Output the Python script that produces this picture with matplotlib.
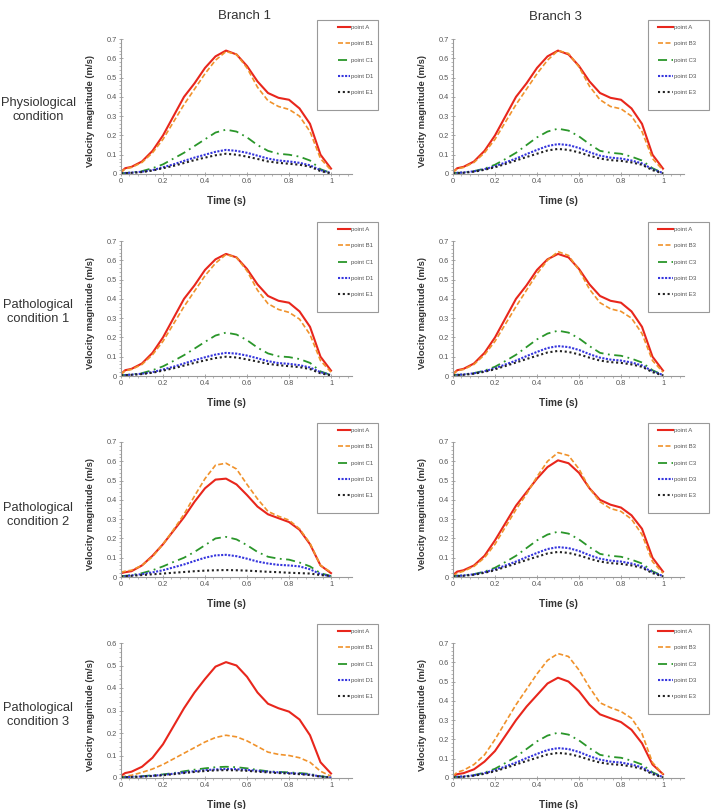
import matplotlib
matplotlib.use("Agg")
import matplotlib.pyplot as plt
import matplotlib.ticker as mticker
from matplotlib.lines import Line2D
from matplotlib.patches import Rectangle

plt.rcParams['font.family'] = ['Liberation Sans', 'DejaVu Sans']

# time samples (s)
TIME = [0, 0.02, 0.05, 0.10, 0.15, 0.20, 0.25, 0.30, 0.35, 0.40, 0.45,
        0.50, 0.55, 0.60, 0.65, 0.70, 0.75, 0.80, 0.85, 0.90, 0.95, 1.00]

# ---- physiological condition
phys_A = [0.01, 0.03, 0.037, 0.065, 0.12, 0.20, 0.30, 0.40, 0.47, 0.55, 0.61,
          0.64, 0.62, 0.56, 0.48, 0.42, 0.395, 0.385, 0.34, 0.26, 0.10, 0.028]
phys_B1 = [0.01, 0.027, 0.034, 0.06, 0.11, 0.18, 0.27, 0.36, 0.44, 0.52, 0.59,
           0.635, 0.62, 0.55, 0.45, 0.38, 0.35, 0.335, 0.30, 0.22, 0.08, 0.02]
phys_C1 = [0.005, 0.005, 0.008, 0.015, 0.03, 0.05, 0.08, 0.11, 0.145, 0.18, 0.215,
           0.23, 0.22, 0.19, 0.15, 0.12, 0.105, 0.10, 0.09, 0.07, 0.025, 0.005]
phys_D1 = [0.005, 0.005, 0.007, 0.012, 0.02, 0.035, 0.05, 0.068, 0.085, 0.10, 0.115,
           0.125, 0.12, 0.11, 0.095, 0.08, 0.07, 0.065, 0.058, 0.045, 0.02, 0.005]
phys_E1 = [0.003, 0.004, 0.006, 0.01, 0.018, 0.03, 0.042, 0.057, 0.072, 0.085, 0.097,
           0.105, 0.10, 0.09, 0.078, 0.065, 0.058, 0.053, 0.048, 0.038, 0.015, 0.003]
phys_B3 = [0.01, 0.027, 0.034, 0.06, 0.11, 0.18, 0.27, 0.36, 0.44, 0.52, 0.59,
           0.64, 0.625, 0.555, 0.455, 0.385, 0.35, 0.338, 0.30, 0.22, 0.08, 0.02]

# branch 3 small points (same in every condition)
br3_C3 = [0.005, 0.006, 0.008, 0.015, 0.028, 0.048, 0.078, 0.11, 0.15, 0.19, 0.22,
          0.235, 0.225, 0.195, 0.155, 0.12, 0.11, 0.105, 0.09, 0.07, 0.03, 0.005]
br3_D3 = [0.005, 0.006, 0.008, 0.014, 0.025, 0.04, 0.06, 0.08, 0.103, 0.125, 0.145,
          0.155, 0.15, 0.135, 0.113, 0.095, 0.085, 0.08, 0.07, 0.055, 0.025, 0.005]
br3_E3 = [0.003, 0.004, 0.006, 0.012, 0.022, 0.035, 0.052, 0.07, 0.088, 0.105, 0.122,
          0.13, 0.125, 0.112, 0.095, 0.08, 0.072, 0.068, 0.06, 0.048, 0.02, 0.003]

# ---- pathological condition 1
pat1_A = [0.01, 0.03, 0.037, 0.065, 0.12, 0.20, 0.30, 0.40, 0.47, 0.55, 0.605,
          0.633, 0.615, 0.555, 0.475, 0.415, 0.39, 0.38, 0.335, 0.255, 0.10, 0.028]
pat1_B1 = [0.01, 0.027, 0.034, 0.06, 0.11, 0.18, 0.27, 0.36, 0.44, 0.52, 0.585,
           0.63, 0.615, 0.545, 0.445, 0.375, 0.345, 0.33, 0.295, 0.215, 0.08, 0.02]
pat1_C1 = [0.005, 0.005, 0.008, 0.015, 0.03, 0.05, 0.078, 0.108, 0.142, 0.177, 0.21,
           0.225, 0.215, 0.186, 0.147, 0.117, 0.102, 0.098, 0.088, 0.068, 0.024, 0.005]
pat1_D1 = [0.005, 0.005, 0.007, 0.012, 0.02, 0.034, 0.048, 0.065, 0.082, 0.097, 0.111,
           0.12, 0.116, 0.106, 0.092, 0.077, 0.067, 0.063, 0.056, 0.044, 0.02, 0.005]
pat1_E1 = [0.003, 0.004, 0.006, 0.01, 0.017, 0.028, 0.04, 0.054, 0.068, 0.081, 0.093,
           0.10, 0.096, 0.086, 0.075, 0.063, 0.056, 0.051, 0.046, 0.036, 0.014, 0.003]
pat1_B3 = [0.01, 0.027, 0.034, 0.06, 0.11, 0.18, 0.27, 0.36, 0.445, 0.53, 0.60,
           0.645, 0.625, 0.55, 0.45, 0.38, 0.348, 0.335, 0.30, 0.22, 0.08, 0.02]

# ---- pathological condition 2
pat2_A1 = [0.02, 0.025, 0.03, 0.06, 0.11, 0.17, 0.24, 0.31, 0.39, 0.46, 0.505,
           0.51, 0.48, 0.425, 0.365, 0.325, 0.305, 0.285, 0.245, 0.17, 0.06, 0.02]
pat2_B1 = [0.025, 0.03, 0.035, 0.06, 0.105, 0.17, 0.245, 0.325, 0.42, 0.51, 0.58,
           0.59, 0.56, 0.48, 0.405, 0.34, 0.315, 0.295, 0.25, 0.175, 0.06, 0.025]
pat2_C1 = [0.005, 0.006, 0.01, 0.02, 0.035, 0.055, 0.078, 0.10, 0.13, 0.165, 0.20,
           0.208, 0.195, 0.165, 0.13, 0.105, 0.095, 0.09, 0.075, 0.055, 0.02, 0.005]
pat2_D1 = [0.005, 0.005, 0.008, 0.015, 0.024, 0.035, 0.05, 0.065, 0.083, 0.10, 0.112,
           0.115, 0.108, 0.095, 0.08, 0.07, 0.063, 0.06, 0.055, 0.04, 0.015, 0.003]
pat2_E1 = [0.003, 0.004, 0.006, 0.01, 0.014, 0.018, 0.022, 0.026, 0.03, 0.033, 0.035,
           0.036, 0.035, 0.033, 0.03, 0.027, 0.025, 0.022, 0.02, 0.018, 0.01, 0.005]
pat2_A3 = [0.01, 0.028, 0.035, 0.06, 0.11, 0.19, 0.28, 0.37, 0.44, 0.51, 0.57,
           0.605, 0.59, 0.54, 0.46, 0.40, 0.375, 0.36, 0.32, 0.25, 0.10, 0.028]
pat2_B3 = [0.005, 0.02, 0.03, 0.055, 0.10, 0.17, 0.26, 0.35, 0.43, 0.52, 0.60,
           0.645, 0.63, 0.56, 0.46, 0.39, 0.355, 0.34, 0.30, 0.22, 0.08, 0.02]

# ---- pathological condition 3
pat3_A1 = [0.01, 0.022, 0.028, 0.05, 0.09, 0.15, 0.23, 0.31, 0.38, 0.44, 0.495,
           0.515, 0.50, 0.45, 0.38, 0.33, 0.31, 0.295, 0.26, 0.19, 0.07, 0.02]
pat3_B1 = [0.005, 0.008, 0.012, 0.025, 0.04, 0.06, 0.085, 0.11, 0.135, 0.16, 0.18,
           0.19, 0.183, 0.165, 0.14, 0.115, 0.105, 0.10, 0.09, 0.07, 0.03, 0.008]
pat3_C1 = [0.003, 0.004, 0.005, 0.008, 0.012, 0.016, 0.022, 0.03, 0.037, 0.043, 0.048,
           0.05, 0.048, 0.043, 0.036, 0.03, 0.027, 0.025, 0.022, 0.018, 0.008, 0.002]
pat3_D1 = [0.003, 0.004, 0.005, 0.007, 0.01, 0.014, 0.019, 0.025, 0.03, 0.035, 0.038,
           0.04, 0.039, 0.036, 0.032, 0.028, 0.025, 0.022, 0.019, 0.015, 0.007, 0.002]
pat3_E1 = [0.003, 0.003, 0.004, 0.006, 0.009, 0.012, 0.017, 0.022, 0.027, 0.031, 0.034,
           0.035, 0.034, 0.032, 0.028, 0.025, 0.022, 0.02, 0.017, 0.013, 0.006, 0.002]
pat3_A3 = [0.01, 0.02, 0.025, 0.045, 0.085, 0.14, 0.22, 0.30, 0.37, 0.43, 0.49,
           0.52, 0.50, 0.45, 0.38, 0.33, 0.31, 0.29, 0.25, 0.18, 0.07, 0.02]
pat3_B3 = [0.01, 0.03, 0.04, 0.07, 0.12, 0.20, 0.29, 0.38, 0.46, 0.54, 0.61,
           0.645, 0.63, 0.56, 0.47, 0.39, 0.365, 0.345, 0.31, 0.23, 0.08, 0.02]

ROW_LABELS = ["Physiological\ncondition", "Pathological\ncondition 1",
              "Pathological\ncondition 2", "Pathological\ncondition 3"]
COL_TITLES = ["Branch 1", "Branch 3"]
LEG_LEFT = ["point A", "point B1", "point C1", "point D1", "point E1"]
LEG_RIGHT = ["point A", "point B3", "point C3", "point D3", "point E3"]
YMAX = [[0.7, 0.7], [0.7, 0.7], [0.7, 0.7], [0.6, 0.7]]

SERIES = [
    [[phys_A, phys_B1, phys_C1, phys_D1, phys_E1],
     [phys_A, phys_B3, br3_C3, br3_D3, br3_E3]],
    [[pat1_A, pat1_B1, pat1_C1, pat1_D1, pat1_E1],
     [pat1_A, pat1_B3, br3_C3, br3_D3, br3_E3]],
    [[pat2_A1, pat2_B1, pat2_C1, pat2_D1, pat2_E1],
     [pat2_A3, pat2_B3, br3_C3, br3_D3, br3_E3]],
    [[pat3_A1, pat3_B1, pat3_C1, pat3_D1, pat3_E1],
     [pat3_A3, pat3_B3, br3_C3, br3_D3, br3_E3]],
]

STYLES = [
    dict(color='#e8261c', lw=1.5, ls='-', cap='round'),
    dict(color='#f0922b', lw=1.2, ls=(0, (3, 1.5)), cap='butt'),
    dict(color='#2a962a', lw=1.3, ls=(0, (5, 2.5, 1, 2.5)), cap='butt'),
    dict(color='#3535dd', lw=1.5, ls=(0, (1, 0.7)), cap='butt'),
    dict(color='#222222', lw=1.5, ls=(0, (1, 1.3)), cap='butt'),
]

W, H = 717, 809
fig = plt.figure(figsize=(W / 100, H / 100), dpi=100)


def fx(px):
    return px / W


def fy(py):
    return 1 - py / H


ax_left_px = [121, 453]       # x of t=0
ax_w_px = 231                 # up to t=1.1
ax_bottom_px = [174, 376, 577, 778]
ax_h_px = 135
leg_left_px = [317, 648]
leg_pad_px = [21, 10]
leg_hlen = [2.0, 2.5]
leg_w_px = 61
leg_top_px = [20, 222, 423, 624]
leg_h_px = 90

for r in range(4):
    for c in range(2):
        ax = fig.add_axes([fx(ax_left_px[c]), fy(ax_bottom_px[r]),
                           ax_w_px / W, ax_h_px / H])
        for vals, st in zip(SERIES[r][c], STYLES):
            ax.plot(TIME, vals, color=st['color'], lw=st['lw'], ls=st['ls'],
                    dash_capstyle=st['cap'], solid_joinstyle='round',
                    dash_joinstyle='round')
        ax.set_xlim(0, 1.1)
        ax.set_ylim(0, YMAX[r][c])
        ax.xaxis.set_major_locator(mticker.FixedLocator([0, 0.2, 0.4, 0.6, 0.8, 1.0]))
        ax.xaxis.set_minor_locator(mticker.MultipleLocator(0.04))
        ax.yaxis.set_major_locator(mticker.MultipleLocator(0.1))
        ax.yaxis.set_minor_locator(mticker.MultipleLocator(0.02))
        fmt = mticker.FuncFormatter(lambda v, p: '%g' % round(v, 2))
        ax.xaxis.set_major_formatter(fmt)
        ax.yaxis.set_major_formatter(fmt)
        for s in ['top', 'right']:
            ax.spines[s].set_visible(False)
        for s in ['left', 'bottom']:
            ax.spines[s].set_color('#9a9a9a')
            ax.spines[s].set_linewidth(0.8)
        ax.tick_params(which='major', length=2.5, width=0.6, color='#9a9a9a',
                       labelsize=5.3, labelcolor='#555555', pad=1.5, direction='inout')
        ax.tick_params(which='minor', length=1.5, width=0.5, color='#9a9a9a',
                       direction='out')
        ax.set_xlabel("Time (s)", fontsize=7.3, fontweight='bold', color='#333333')
        ax.xaxis.set_label_coords(0.4545, -0.16)
        ax.set_ylabel("Velocity magnitude (m/s)", fontsize=6.8, fontweight='bold',
                      color='#333333')
        ax.yaxis.set_label_coords(-0.113, 0.47)

        # legend with Excel-style box
        labels = LEG_LEFT if c == 0 else LEG_RIGHT
        handles = [Line2D([0], [0], color=st['color'], lw=st['lw'], ls=st['ls'],
                          dash_capstyle=st['cap']) for st in STYLES]
        leg = ax.legend(handles, labels, loc='upper left',
                        bbox_to_anchor=(fx(leg_left_px[c] + leg_pad_px[c]),
                                        fy(leg_top_px[r] + 5)),
                        bbox_transform=fig.transFigure, frameon=False,
                        fontsize=4.3, handlelength=leg_hlen[c], handletextpad=0.1,
                        labelspacing=1.85, borderpad=0, borderaxespad=0)
        for t in leg.get_texts():
            t.set_color('#555555')
        fig.patches.append(Rectangle((fx(leg_left_px[c]), fy(leg_top_px[r] + leg_h_px)),
                                     leg_w_px / W, leg_h_px / H,
                                     transform=fig.transFigure, fill=False,
                                     edgecolor='#999999', lw=0.8))

# column titles and row labels
fig.text(fx(244), fy(16), COL_TITLES[0], ha='center', va='center',
         fontsize=9.5, color='#333333')
fig.text(fx(555), fy(17), COL_TITLES[1], ha='center', va='center',
         fontsize=9.5, color='#333333')
row_y = [110, 312, 515, 715]
for lbl, yy in zip(ROW_LABELS, row_y):
    fig.text(fx(38), fy(yy), lbl, ha='center', va='center', fontsize=9.3,
             color='#333333', linespacing=1.3)

fig.savefig("out.png", dpi=100)
